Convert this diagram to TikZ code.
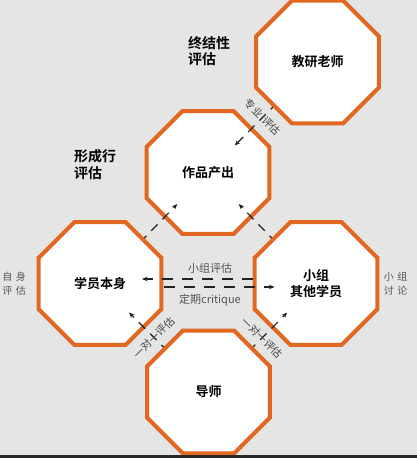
\documentclass[tikz,border=0pt]{standalone}
\usepackage{fontspec}
\setmainfont{Noto Sans CJK SC}[BoldFont={Noto Sans CJK SC Bold}]
\usetikzlibrary{shapes.geometric,calc,arrows.meta}
\definecolor{bgc}{RGB}{229,229,229}
\definecolor{orangec}{RGB}{226,104,34}
\definecolor{linec}{RGB}{34,34,34}
\definecolor{notec}{RGB}{85,85,85}
\definecolor{stripc}{RGB}{40,40,40}
\tikzset{
  octo/.style={regular polygon, regular polygon sides=8, draw=orangec, line width=4pt,
    fill=white, minimum size=133.1pt, inner sep=0pt, align=center,
    font=\bfseries\fontsize{13}{16}\selectfont},
  conn/.style={draw=linec, line width=1.2pt, dash pattern=on 11pt off 9pt,
    -{Stealth[length=5.5pt,width=4.5pt]}},
  dconn/.style={conn, dash pattern=on 9pt off 7pt, dash phase=6pt},
  note/.style={text=notec, inner sep=0pt, font=\fontsize{11}{13}\selectfont},
  diaglab/.style={text=linec!85!white, inner sep=0pt, font=\fontsize{10.5}{12}\selectfont},
  sidelab/.style={text=notec, inner sep=0pt, align=center, font=\fontsize{10}{14}\selectfont},
  head/.style={inner sep=0pt, align=left, anchor=west, font=\bfseries\fontsize{14}{16.5}\selectfont}
}
\begin{document}
\begin{tikzpicture}[x=1pt,y=-1pt]
\useasboundingbox (0,0) rectangle (417,458);
\fill[bgc] (0,0) rectangle (417,458);
% octagons
\node[octo] (T) at (317.5,62) {教研老师};
\node[octo] (M) at (208,172.5) {作品产出};
\node[octo] (L) at (100,283.5) {学员本身};
\node[octo] (R) at (316,283.5) {小组\\其他学员};
\node[octo] (B) at (208.5,392) {导师};
\fill[stripc] (0,455) rectangle (417,458);
% headings
\node[head] (h1) at (188,51) {终结性\\评估};
\node[head] (h2) at (74,164.5) {形成行\\评估};
% side labels
\node[sidelab] (s1) at (14,284) {自\hspace{3.5pt}身\\评\hspace{3.5pt}估};
\node[sidelab] (s2) at (395.5,284) {小\hspace{3.5pt}组\\讨\hspace{3.5pt}论};
% connectors
\draw[dconn] ($(T)!63.5pt!(M)$) -- ($(M)!38pt!(T)$);
\draw[dconn] ($(L)!63.5pt!(M)$) -- ($(M)!44pt!(L)$);
\draw[dconn] ($(R)!63.5pt!(M)$) -- ($(M)!44pt!(R)$);
\draw[dconn] ($(B)!63.5pt!(L)$) -- ($(L)!41pt!(B)$);
\draw[dconn] ($(B)!63.5pt!(R)$) -- ($(R)!41pt!(B)$);
\draw[conn] ($(R)+(-63.5,-4.5)$) -- ($(L)+(42,-4.5)$);
\draw[conn] ($(L)+(63.5,3.5)$) -- ($(R)+(-41.5,3.5)$);
% connector labels
\node[diaglab, rotate=-45] (l1) at ($(T)!0.5!(M)$) {专业\hspace{4pt}评估};
\node[diaglab, rotate=45] (l2) at ($(B)!0.5!(L)$) {一对一评估};
\node[diaglab, rotate=-45] (l3) at ($(B)!0.5!(R)$) {一对一评估};
\node[note] (n1) at (210,268) {小组评估};
\node[note] (n2) at (210,300) {定期critique};
\end{tikzpicture}
\end{document}
